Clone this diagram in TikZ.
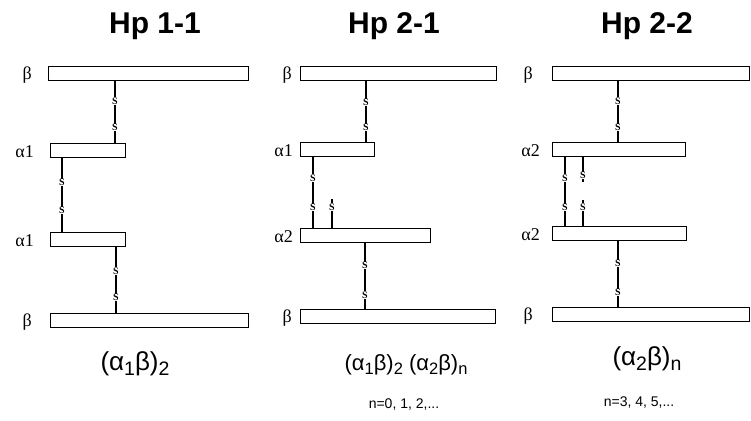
\documentclass[tikz,border=0pt]{standalone}
\usepackage{fontspec}
\setmainfont{Liberation Serif}
\newfontfamily\hdfont{Liberation Sans}
\usetikzlibrary{calc}

% lowered, slightly reduced index used in the chain formulas
\newcommand\idx[1]{\raisebox{-0.22em}{\fontsize{0.75\dimexpr\fsz\relax}{1em}\selectfont #1}}
\newcommand\fsz{22pt}

% disulfide-bridged link: #1 name prefix, #2 x-coordinate, #3 upper chain, #4 lower chain, #5/#6 positions of the S atoms
\newcommand\ssbond[6]{%
  \draw[bond] (#3.south -| #2) --
    node[sulf,pos=#5] (#1s1) {S}
    node[sulf,pos=#6] (#1s2) {S}
    (#4.north -| #2);}

\tikzset{
  chainbar/.style={draw, line width=1.4pt, rectangle, inner sep=0pt,
    anchor=north west, minimum height=14pt},
  chainlabel/.style={anchor=base east, inner sep=0pt, font=\fontsize{18}{18}\selectfont},
  paneltitle/.style={anchor=base, inner sep=0pt, font=\hdfont\bfseries\fontsize{30}{30}\selectfont},
  formula/.style={anchor=base, inner sep=0pt,
    font=\renewcommand\fsz{#1}\hdfont\fontsize{#1}{#1}\selectfont},
  formula/.default=26pt,
  nrange/.style={anchor=base, inner sep=0pt, font=\hdfont\fontsize{14}{14}\selectfont},
  bond/.style={line width=1.6pt},
  sulf/.style={fill=white, inner sep=0.4pt, font=\bfseries\fontsize{10}{10}\selectfont},
}

\begin{document}
\begin{tikzpicture}[x=1pt, y=-1pt]
  \useasboundingbox (0,0) rectangle (751,420);

  % ---------- Hp 1-1 ----------
  \node[paneltitle] (t1) at (155,34) {Hp 1-1};
  \node[chainbar, minimum width=200pt] (p1b1) at (48,66) {};
  \node[chainbar, minimum width=75pt]  (p1a1) at (50,143) {};
  \node[chainbar, minimum width=75pt]  (p1a2) at (50,232) {};
  \node[chainbar, minimum width=198pt] (p1b2) at (50,313) {};
  \node[chainlabel] (l1b1) at (32,79)  {β};
  \node[chainlabel] (l1a1) at (34,157) {α1};
  \node[chainlabel] (l1a2) at (34,246) {α1};
  \node[chainlabel] (l1b2) at (32,326) {β};
  \coordinate (x11) at (115,0);
  \coordinate (x12) at (62,0);
  \coordinate (x13) at (116,0);
  \ssbond{p1k1}{x11}{p1b1}{p1a1}{0.32}{0.75}
  \ssbond{p1k2}{x12}{p1a1}{p1a2}{0.33}{0.71}
  \ssbond{p1k3}{x13}{p1a2}{p1b2}{0.36}{0.76}
  \node[formula] (f1) at (135,370) {(α\idx{1}β)\idx{2}};

  % ---------- Hp 2-1 ----------
  \node[paneltitle] (t2) at (394,34) {Hp 2-1};
  \node[chainbar, minimum width=196pt] (p2b1) at (300,66) {};
  \node[chainbar, minimum width=74pt]  (p2a1) at (300,142) {};
  \node[chainbar, minimum width=130pt] (p2a2) at (300,228) {};
  \node[chainbar, minimum width=195pt] (p2b2) at (300,309) {};
  \node[chainlabel] (l2b1) at (292,79)  {β};
  \node[chainlabel] (l2a1) at (293,156) {α1};
  \node[chainlabel] (l2a2) at (293,242) {α2};
  \node[chainlabel] (l2b2) at (292,322) {β};
  \coordinate (x21) at (366,0);
  \coordinate (x22) at (313,0);
  \coordinate (x23) at (365,0);
  \ssbond{p2k1}{x21}{p2b1}{p2a1}{0.35}{0.76}
  \ssbond{p2k2}{x22}{p2a1}{p2a2}{0.29}{0.71}
  \ssbond{p2k3}{x23}{p2a2}{p2b2}{0.34}{0.79}
  % free half-cystine on the α2 chain
  \coordinate (p2free) at (332,199);
  \draw[bond] (p2free) -- node[sulf,pos=0.28] (p2fs) {S} (p2a2.north -| p2free);
  \node[formula=22pt] (f2) at (406,370) {(α\idx{1}β)\idx{2} (α\idx{2}β)\idx{n}};
  \node[nrange] (n2) at (404,408) {n=0, 1, 2,...};

  % ---------- Hp 2-2 ----------
  \node[paneltitle] (t3) at (647,34) {Hp 2-2};
  \node[chainbar, minimum width=197pt] (p3b1) at (552,66) {};
  \node[chainbar, minimum width=133pt] (p3a1) at (552,142) {};
  \node[chainbar, minimum width=134pt] (p3a2) at (552,226) {};
  \node[chainbar, minimum width=197pt] (p3b2) at (552,307) {};
  \node[chainlabel] (l3b1) at (533,79)  {β};
  \node[chainlabel] (l3a1) at (540,156) {α2};
  \node[chainlabel] (l3a2) at (540,240) {α2};
  \node[chainlabel] (l3b2) at (533,320) {β};
  \coordinate (x31) at (618,0);
  \coordinate (x32) at (565,0);
  \coordinate (x33) at (618,0);
  \ssbond{p3k1}{x31}{p3b1}{p3a1}{0.32}{0.76}
  \ssbond{p3k2}{x32}{p3a1}{p3a2}{0.30}{0.73}
  \ssbond{p3k3}{x33}{p3a2}{p3b2}{0.34}{0.78}
  % two unpaired half-cystines between the α2 chains
  \coordinate (p3freeup) at (583,182);
  \coordinate (p3freedn) at (583,200);
  \draw[bond] (p3a1.south -| p3freeup) -- node[sulf,pos=0.74] (p3fs1) {S} (p3freeup);
  \draw[bond] (p3freedn) -- node[sulf,pos=0.27] (p3fs2) {S} (p3a2.north -| p3freedn);
  \node[formula] (f3) at (647,365) {(α\idx{2}β)\idx{n}};
  \node[nrange] (n3) at (639,406) {n=3, 4, 5,...};
\end{tikzpicture}
\end{document}
